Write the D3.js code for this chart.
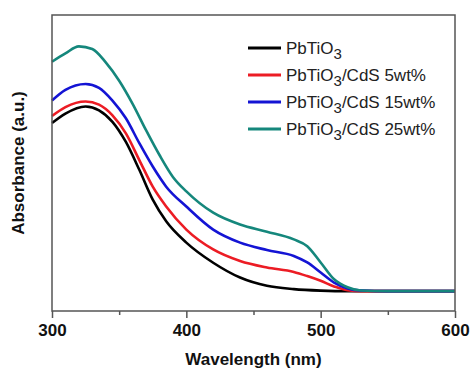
<!DOCTYPE html>
<html>
<head>
<meta charset="utf-8">
<script src="https://cdn.jsdelivr.net/npm/d3@7"></script>
<style>
  body { margin: 0; background: #fff; }
  svg { display: block; font-family: "Liberation Sans", Arial, sans-serif; }
</style>
</head>
<body>
<div id="chart"></div>
<script>
// wavelength samples (nm) for each series
const wlPure = [300, 310, 325, 335, 345, 355, 365, 375, 385, 400, 420, 440, 460, 480, 500, 520, 550, 600];
const absPure = [0.635, 0.667, 0.691, 0.678, 0.639, 0.571, 0.477, 0.376, 0.303, 0.231, 0.163, 0.113, 0.085, 0.074, 0.069, 0.067, 0.067, 0.067];

const wlCdS = [300, 310, 325, 335, 345, 355, 365, 375, 385, 400, 420, 440, 460, 480, 490, 500, 510, 520, 530, 550, 600];
const abs5 = [0.659, 0.689, 0.708, 0.697, 0.661, 0.600, 0.510, 0.420, 0.353, 0.275, 0.208, 0.169, 0.147, 0.132, 0.118, 0.102, 0.083, 0.070, 0.067, 0.067, 0.067];
const abs15 = [0.711, 0.747, 0.767, 0.754, 0.711, 0.651, 0.567, 0.488, 0.420, 0.353, 0.275, 0.231, 0.206, 0.186, 0.164, 0.130, 0.096, 0.076, 0.069, 0.067, 0.067];

const wl25 = [300, 310, 320, 330, 340, 350, 360, 370, 380, 390, 400, 420, 440, 460, 480, 490, 500, 510, 520, 530, 550, 600];
const abs25 = [0.842, 0.870, 0.894, 0.885, 0.840, 0.778, 0.700, 0.611, 0.527, 0.453, 0.404, 0.332, 0.292, 0.268, 0.242, 0.219, 0.164, 0.107, 0.080, 0.069, 0.067, 0.067];

const xTicks = [300, 400, 500, 600];
const xMinorTicks = [350, 450, 550];

const series = [
  { name: "PbTiO", tail: "", color: "#000000", wl: wlPure, abs: absPure },
  { name: "PbTiO", tail: "/CdS 5wt%", color: "#ec1c24", wl: wlCdS, abs: abs5 },
  { name: "PbTiO", tail: "/CdS 15wt%", color: "#1414d4", wl: wlCdS, abs: abs15 },
  { name: "PbTiO", tail: "/CdS 25wt%", color: "#15877c", wl: wl25, abs: abs25 }
];

const width = 470, height = 368;
const margin = { top: 15, right: 15, bottom: 57, left: 52 };
const w = width - margin.left - margin.right;
const h = height - margin.top - margin.bottom;

const svg = d3.select("#chart").append("svg")
  .attr("width", width)
  .attr("height", height);

const g = svg.append("g")
  .attr("transform", `translate(${margin.left},${margin.top})`);

const x = d3.scaleLinear().domain([300, 600]).range([0, w]);
const y = d3.scaleLinear().domain([0, 1]).range([h, 0]);

const axisColor = "#555";

// curves
const line = d3.line()
  .x(d => x(d[0]))
  .y(d => y(d[1]))
  .curve(d3.curveMonotoneX);

series.forEach(s => {
  g.append("path")
    .datum(s.wl.map((v, i) => [v, s.abs[i]]))
    .attr("fill", "none")
    .attr("stroke", s.color)
    .attr("stroke-width", 2.6)
    .attr("d", line);
});

// frame
g.append("rect")
  .attr("width", w)
  .attr("height", h)
  .attr("fill", "none")
  .attr("stroke", axisColor)
  .attr("stroke-width", 1.5);

// bottom axis
const xAxis = g.append("g")
  .attr("transform", `translate(0,${h})`)
  .call(d3.axisBottom(x).tickValues(xTicks).tickSize(7).tickPadding(6).tickFormat(d3.format("d")));
xAxis.select(".domain").remove();
xAxis.selectAll("line").attr("stroke", axisColor).attr("stroke-width", 1.5);
xAxis.selectAll("text")
  .attr("fill", "#111")
  .style("font-size", "17px")
  .style("font-weight", "bold");

const xMinor = g.append("g")
  .attr("transform", `translate(0,${h})`)
  .call(d3.axisBottom(x).tickValues(xMinorTicks).tickSize(4).tickFormat(""));
xMinor.select(".domain").remove();
xMinor.selectAll("line").attr("stroke", axisColor).attr("stroke-width", 1.5);

// axis titles
svg.append("text")
  .attr("x", margin.left + w / 2)
  .attr("y", 365)
  .attr("text-anchor", "middle")
  .attr("fill", "#111")
  .style("font-size", "17px")
  .style("font-weight", "bold")
  .text("Wavelength (nm)");

svg.append("text")
  .attr("transform", `translate(24,${margin.top + h / 2}) rotate(-90)`)
  .attr("text-anchor", "middle")
  .attr("fill", "#111")
  .style("font-size", "17px")
  .style("font-weight", "bold")
  .text("Absorbance (a.u.)");

// legend
const legend = svg.append("g").attr("transform", "translate(248,48)");
series.forEach((s, i) => {
  const row = legend.append("g").attr("transform", `translate(0,${i * 27})`);
  row.append("line")
    .attr("x1", 0).attr("x2", 33)
    .attr("stroke", s.color)
    .attr("stroke-width", 3);
  const t = row.append("text")
    .attr("x", 38)
    .attr("y", 6)
    .attr("fill", "#222")
    .style("font-size", "17px");
  t.append("tspan").text(s.name);
  t.append("tspan").attr("dy", 5).style("font-size", "15px").text("3");
  if (s.tail) t.append("tspan").attr("dy", -5).text(s.tail);
});
</script>
</body>
</html>
